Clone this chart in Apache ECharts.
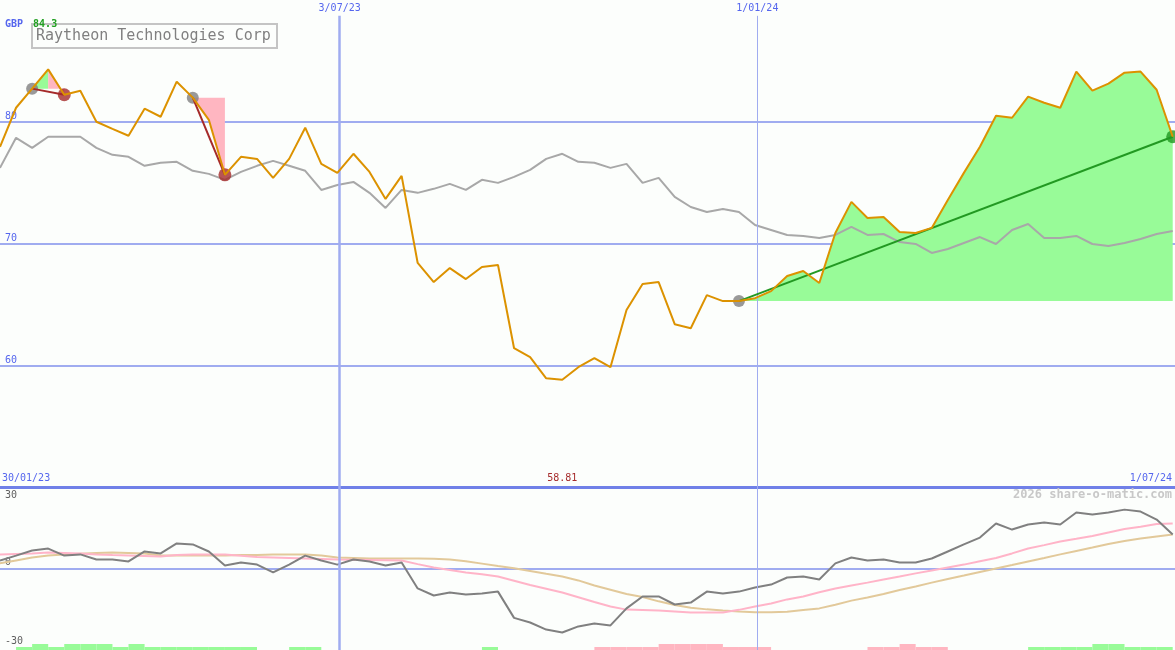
<!DOCTYPE html>
<html><head><meta charset="utf-8">
<script src="https://cdn.jsdelivr.net/npm/echarts@6/dist/echarts.min.js"></script>
<style>html,body{margin:0;padding:0;background:#fcfefc}#c{width:1175px;height:650px}</style>
</head><body><div id="c"></div>
<script>
// ---- data ----
const company = 'Raytheon Technologies Corp';
const currency = 'GBP';
const watermark = '2026 share-o-matic.com';
const firstWeek = '2023-02-05';
const axisStart = '2023-02-05';
const axisEnd = '2024-07-01';
const topTickDates = ['2023-07-03', '2024-01-01'];
const topTickLabels = ['3/07/23', '1/01/24'];
const edgeLabels = ['30/01/23', '1/07/24'];
const oscTicks = [-30, 0, 30];

const price = [77.94, 81.15, 82.72, 84.3, 82.22, 82.55, 80.0, 79.42, 78.85, 81.07,
 80.41, 83.29, 81.98, 80.16, 75.64, 77.12, 76.95, 75.39, 76.95, 79.51,
 76.54, 75.80, 77.37, 75.88, 73.66, 75.56, 68.40, 66.83, 67.98, 67.08,
 68.07, 68.23, 61.40, 60.66, 58.93, 58.81, 59.84, 60.58, 59.84, 64.53,
 66.67, 66.83, 63.37, 63.04, 65.76, 65.27, 65.27, 65.51, 66.09, 67.33,
 67.74, 66.75, 70.86, 73.42, 72.10, 72.18, 70.95, 70.86, 71.28, 73.58,
 75.80, 77.94, 80.49, 80.33, 82.06, 81.56, 81.15, 84.12, 82.55, 83.13,
 84.03, 84.12, 82.63, 78.77];

const priceMA = [76.21, 78.68, 77.86, 78.77, 78.77, 78.77, 77.86, 77.28, 77.12, 76.38,
 76.63, 76.71, 75.97, 75.72, 75.23, 75.88, 76.38, 76.79, 76.38, 75.97,
 74.40, 74.81, 75.06, 74.16, 72.92, 74.40, 74.16, 74.49, 74.90, 74.40,
 75.23, 74.98, 75.47, 76.05, 76.95, 77.37, 76.71, 76.63, 76.21, 76.54,
 74.98, 75.39, 73.83, 73.00, 72.59, 72.84, 72.59, 71.52, 71.11, 70.70,
 70.62, 70.45, 70.70, 71.36, 70.70, 70.78, 70.12, 69.96, 69.22, 69.55,
 70.04, 70.53, 69.96, 71.11, 71.60, 70.45, 70.45, 70.62, 69.96, 69.79,
 70.04, 70.37, 70.78, 71.03];

const oscFast = [3.3, 5.3, 7.4, 8.2, 5.3, 5.8, 3.7, 3.7, 2.9, 7.0,
 6.2, 10.3, 9.9, 7.0, 1.2, 2.5, 1.6, -1.6, 1.6, 5.3,
 3.3, 1.6, 3.7, 2.9, 1.2, 2.5, -8.2, -11.1, -9.9, -10.7,
 -10.3, -9.5, -20.3, -22.2, -25.1, -26.3, -23.8, -22.6, -23.4, -16.4,
 -11.5, -11.5, -14.8, -14.0, -9.5, -10.3, -9.5, -7.8, -6.6, -3.7,
 -3.3, -4.5, 2.1, 4.5, 3.3, 3.7, 2.5, 2.5, 4.1, 7.0,
 9.9, 12.7, 18.5, 16.0, 18.1, 18.9, 18.1, 23.0, 22.2, 23.0,
 24.2, 23.4, 20.1, 14.0];

const oscMid = [5.8, 6.0, 6.2, 6.6, 6.4, 6.2, 5.8, 5.5, 5.3, 5.1,
 4.9, 5.5, 5.8, 5.8, 5.8, 5.2, 4.7, 4.5, 4.3, 4.1,
 3.9, 3.7, 3.6, 3.5, 3.4, 3.3, 1.8, 0.4, -0.6, -1.6,
 -2.4, -3.3, -5.0, -6.8, -8.3, -9.9, -11.8, -13.8, -15.6, -16.9,
 -17.1, -17.3, -17.7, -18.1, -18.1, -18.1, -17.0, -15.6, -14.4, -12.7,
 -11.5, -9.8, -8.2, -7.0, -5.8, -4.5, -3.3, -2.0, -0.8, 0.4,
 1.6, 3.0, 4.3, 6.2, 8.2, 9.6, 11.1, 12.2, 13.4, 14.8,
 16.2, 17.2, 18.3, 18.5];

const oscSlow = [2.1, 3.3, 4.5, 5.3, 5.8, 6.1, 6.4, 6.6, 6.4, 6.2,
 5.3, 5.3, 5.3, 5.3, 5.3, 5.5, 5.6, 5.8, 5.8, 5.8,
 5.3, 4.5, 4.3, 4.1, 4.1, 4.1, 4.1, 4.0, 3.7, 3.0,
 2.0, 1.0, 0.1, -1.0, -2.2, -3.3, -4.9, -7.0, -8.7, -10.5,
 -11.7, -13.5, -15.0, -16.1, -16.8, -17.3, -17.7, -18.0, -18.0, -17.8,
 -17.1, -16.4, -14.9, -13.2, -11.9, -10.5, -8.8, -7.4, -5.8, -4.3,
 -2.9, -1.4, 0.0, 1.4, 2.9, 4.3, 5.8, 7.2, 8.6, 10.1,
 11.3, 12.3, 13.2, 14.0];

// per week interval: + green, - pink, magnitude 1 low / 2 tall
const signals = [0,1,2,1,2,2,2,1,2,1, 1,1,1,1,1,1,0,0,1,1,
 0,0,0,0,0,0,0,0,0,0, 1,0,0,0,0,0,0,-1,-1,-1,
 -1,-2,-2,-2,-2,-1,-1,-1,0,0, 0,0,0,0,-1,-1,-2,-1,-1,0,
 0,0,0,0,1,1,1,1,2,2, 1,1,1];

const trades = [
  {entry: 2, peak: 3, exit: 4, open: false},
  {entry: 12, peak: 12, exit: 14, open: false},
  {entry: 46, peak: 73, exit: 73, open: true}
];

// ---- styles ----
const C = {
  bg: '#fcfefc', grid: '#a0acf0', sep: '#7080e8', lblBlue: '#5566ee',
  orange: '#dc9200', ma: '#a8a8a8', fast: '#808080', mid: '#ffb4c8', slow: '#e2c99a',
  green: '#98fb98', pink: '#ffb6c1', brown: '#a52a2a', tradeGreen: '#229922', gray: '#808080'
};
const MONO = 'DejaVu Sans Mono';

function ts(s) { const [y, m, d] = s.split('-').map(Number); return Date.UTC(y, m - 1, d); }
const DAY = 86400000;
const dates = price.map((_, i) => ts(firstWeek) + 7 * DAY * i);
const P = i => [dates[i], price[i]];
const seq = (a, b) => { const r = []; for (let i = a; i <= b; i++) r.push(i); return r; };

const maxPrice = Math.max(...price);
const minPrice = Math.min(...price);
const minIdx = price.indexOf(minPrice);

const yTop = {min: 50, max: 90};
const labelBand = 1.3;

const series = [];
// host for vertical lines (top)
series.push({
  type: 'line', xAxisIndex: 0, yAxisIndex: 0, data: price.map((v, i) => P(i)),
  showSymbol: false, silent: true, lineStyle: {opacity: 0}, z: 1,
  markLine: {
    symbol: 'none', silent: true, label: {show: false}, animation: false,
    data: topTickDates.map((d, k) => [
      {coord: [ts(d), yTop.min], lineStyle: {color: C.grid, width: k === 0 ? 2.5 : 1, type: 'solid'}},
      {coord: [ts(d), yTop.max - labelBand]}
    ])
  }
});
// trade fills
trades.forEach(t => {
  const base = price[t.entry];
  const segs = [];
  if (t.open) segs.push({from: t.entry, to: t.exit, color: C.green});
  else {
    if (t.peak > t.entry) segs.push({from: t.entry, to: t.peak, color: C.green});
    segs.push({from: t.peak, to: t.exit, color: C.pink});
  }
  segs.forEach(s => series.push({
    type: 'line', xAxisIndex: 0, yAxisIndex: 0, data: seq(s.from, s.to).map(P),
    showSymbol: false, silent: true, lineStyle: {width: 0},
    areaStyle: {color: s.color, opacity: 1, origin: base}, z: 2
  }));
});
// moving average
series.push({type: 'line', xAxisIndex: 0, yAxisIndex: 0, data: priceMA.map((v, i) => [dates[i], v]),
  showSymbol: false, silent: true, lineStyle: {color: C.ma, width: 2}, z: 3});
// entry dots
series.push({type: 'scatter', xAxisIndex: 0, yAxisIndex: 0, data: trades.map(t => P(t.entry)),
  symbolSize: 12, itemStyle: {color: C.gray}, silent: true, z: 4});
// exit dots
series.push({type: 'scatter', xAxisIndex: 0, yAxisIndex: 0,
  data: trades.map(t => ({value: P(t.exit), itemStyle: {color: t.open ? C.tradeGreen : C.brown}})),
  symbolSize: 13, silent: true, z: 4});
// trade lines
trades.forEach(t => series.push({
  type: 'line', xAxisIndex: 0, yAxisIndex: 0, data: [P(t.entry), P(t.exit)], showSymbol: false, silent: true,
  lineStyle: {color: t.open ? C.tradeGreen : C.brown, width: 2}, z: 5
}));
// price
series.push({type: 'line', xAxisIndex: 0, yAxisIndex: 0, data: price.map((v, i) => P(i)),
  showSymbol: false, silent: true, lineStyle: {color: C.orange, width: 2}, z: 6});

// bottom panel
series.push({type: 'line', xAxisIndex: 2, yAxisIndex: 1, data: oscSlow.map((v, i) => [dates[i], v]),
  showSymbol: false, silent: true, lineStyle: {color: C.slow, width: 2}, z: 2,
  markLine: {
    symbol: 'none', silent: true, label: {show: false}, animation: false,
    data: topTickDates.map((d, k) => ({xAxis: ts(d), lineStyle: {color: C.grid, width: k === 0 ? 2.5 : 1, type: 'solid'}}))
  }});
series.push({type: 'line', xAxisIndex: 2, yAxisIndex: 1, data: oscMid.map((v, i) => [dates[i], v]),
  showSymbol: false, silent: true, lineStyle: {color: C.mid, width: 2}, z: 3});
series.push({type: 'line', xAxisIndex: 2, yAxisIndex: 1, data: oscFast.map((v, i) => [dates[i], v]),
  showSymbol: false, silent: true, lineStyle: {color: C.fast, width: 2}, z: 4});
series.push({
  type: 'custom', xAxisIndex: 2, yAxisIndex: 2, silent: true,
  encode: {x: [0, 1], y: 2},
  data: signals.map((s, i) => [dates[i], dates[i + 1] || ts(axisEnd), s]).filter(d => d[2] !== 0),
  renderItem: (params, api) => {
    const lv = api.value(2);
    const a = api.coord([api.value(0), Math.abs(lv)]);
    const b = api.coord([api.value(1), 0]);
    return {type: 'rect', shape: {x: a[0], y: a[1], width: b[0] - a[0], height: b[1] - a[1]},
      style: {fill: lv > 0 ? C.green : C.pink}};
  }, z: 1
});

const tickIndex = (list, v) => list.findIndex(d => Math.abs(ts(d) - v) < DAY);
const bottomCustom = [ts(axisStart), dates[minIdx], ts(axisEnd)];

const option = {
  backgroundColor: C.bg,
  animation: false,
  title: [
    {text: '{b|' + currency + '}  {g|' + maxPrice.toFixed(1) + '}', left: 5, top: 15, padding: 0,
      textStyle: {rich: {b: {color: C.lblBlue, fontSize: 10, fontFamily: MONO}, g: {color: '#22a022', fontSize: 10, fontFamily: MONO}}}},
    {text: company, left: 32, top: 24, borderColor: '#c4c4c4', borderWidth: 2, padding: [4, 6, 4, 4],
      textStyle: {color: '#808080', fontSize: 15, fontWeight: 'normal', fontFamily: MONO, lineHeight: 16}},
    {text: watermark, right: 3, top: 489, padding: 0,
      textStyle: {color: '#c8c8c8', fontSize: 12, fontWeight: 'bold', fontFamily: MONO}}
  ],
  grid: [
    {left: 0, right: 0, top: 0, height: 487, outerBoundsMode: 'none', containLabel: false},
    {left: 0, right: 0, top: 487, height: 163, outerBoundsMode: 'none', containLabel: false}
  ],
  xAxis: [
    {type: 'value', gridIndex: 0, position: 'top', min: ts(axisStart), max: ts(axisEnd),
      axisLine: {show: false}, axisTick: {show: false}, splitLine: {show: false},
      axisLabel: {inside: true, margin: 3, color: C.lblBlue, fontSize: 10, fontFamily: MONO,
        customValues: topTickDates.map(ts),
        formatter: v => { const k = tickIndex(topTickDates, v); return k >= 0 ? topTickLabels[k] : ''; }}},
    {type: 'value', gridIndex: 0, position: 'bottom', min: ts(axisStart), max: ts(axisEnd),
      axisLine: {show: true, onZero: false, lineStyle: {color: C.sep, width: 3}}, axisTick: {show: false}, splitLine: {show: false},
      axisLabel: {inside: true, margin: 4, color: C.lblBlue, fontSize: 10, fontFamily: MONO,
        customValues: bottomCustom, alignMinLabel: 'left', alignMaxLabel: 'right', showMinLabel: true, showMaxLabel: true,
        formatter: v => {
          if (Math.abs(v - dates[minIdx]) < DAY) return '{r|' + minPrice.toFixed(2) + '}';
          return v < dates[minIdx] ? '{a|' + edgeLabels[0] + '}' : '{e|' + edgeLabels[1] + '}';
        },
        rich: {
          r: {color: C.brown, fontSize: 10, fontFamily: MONO},
          a: {color: C.lblBlue, fontSize: 10, fontFamily: MONO, padding: [0, 0, 0, 2]},
          e: {color: C.lblBlue, fontSize: 10, fontFamily: MONO, padding: [0, 3, 0, 0]}
        }}},
    {type: 'value', gridIndex: 1, min: ts(axisStart), max: ts(axisEnd),
      axisLine: {show: true, onZero: true, lineStyle: {color: C.grid, width: 2}}, axisTick: {show: false},
      axisLabel: {show: false}, splitLine: {show: false}}
  ],
  yAxis: [
    {type: 'value', gridIndex: 0, min: yTop.min, max: yTop.max, interval: 10,
      axisLine: {show: false}, axisTick: {show: false},
      splitLine: {show: true, showMinLine: false, showMaxLine: false, lineStyle: {color: C.grid, width: 2}},
      axisLabel: {inside: true, margin: 5, verticalAlign: 'bottom', color: C.lblBlue, fontSize: 10, fontFamily: MONO,
        showMinLabel: false, showMaxLabel: false}},
    {type: 'value', gridIndex: 1, min: -33.5, max: 33.5,
      axisLine: {show: false}, axisTick: {show: false}, splitLine: {show: false},
      axisLabel: {inside: true, margin: 5, color: '#606060', fontSize: 10, fontFamily: MONO,
        customValues: oscTicks, showMinLabel: true, showMaxLabel: true,
        formatter: v => v === 0 ? '{z|0}' : String(v),
        rich: {z: {color: '#606060', fontSize: 10, fontFamily: MONO, padding: [0, 0, 12, 0]}}}},
    {type: 'value', gridIndex: 1, min: 0, max: 163 / 3, show: false}
  ],
  series
};
echarts.init(document.getElementById('c')).setOption(option);
</script></body></html>
